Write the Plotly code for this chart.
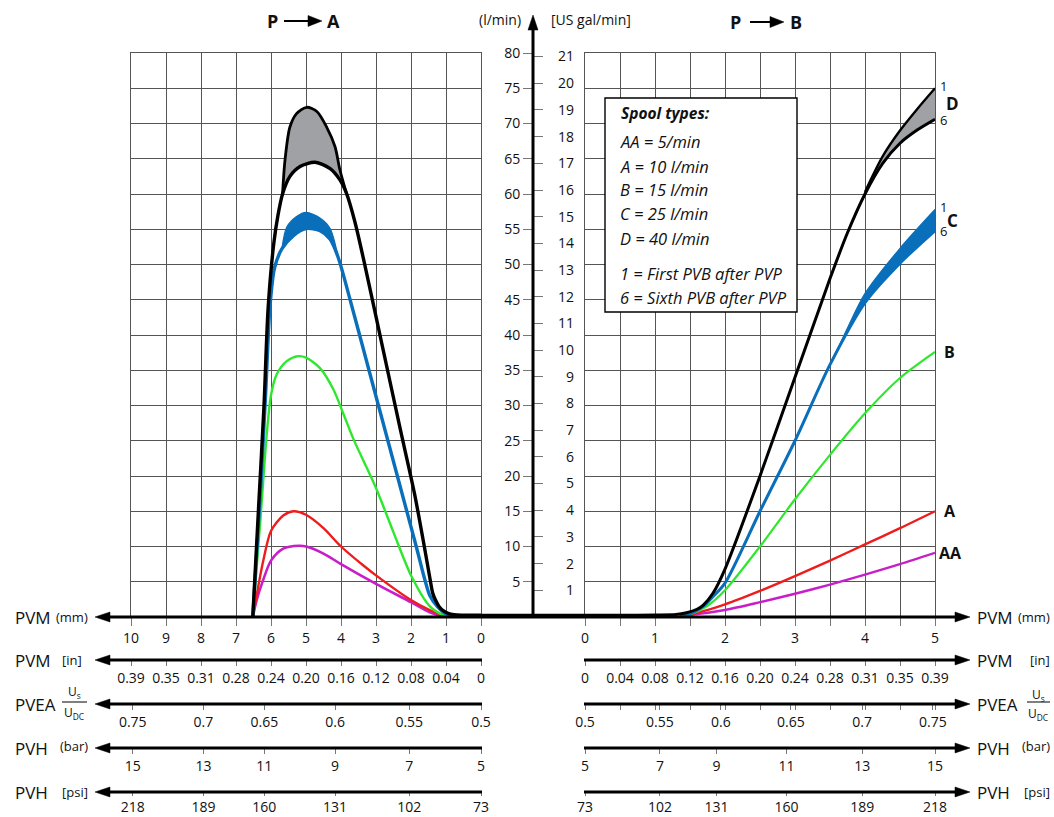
import plotly.graph_objects as go

W, H = 1054, 817
def PX(x): return x / W
def PY(y): return 1 - y / H

FONT = "Open Sans"

# ---------------- data: left panel  P -> A  (spool travel mm, flow l/min) ----------------
lD_fall_x = [0, 0.3, 0.69, 0.9, 1.08, 1.2, 1.3, 1.38, 1.46, 1.62, 1.9, 2.3, 2.8, 3.3, 3.6, 3.85]
lD_fall_y = [0.25, 0.25, 0.3, 0.45, 0.9, 1.5, 2.4, 3.4, 5.5, 10, 17.5, 26.5, 38, 49.5, 56, 60.2]
lD_low_x = [3.85, 4.03, 4.31, 4.74, 5.17, 5.46, 5.67]
lD_low_y = [60.2, 62.0, 63.6, 64.5, 63.9, 62.5, 60.0]
lD_up_x = [3.85, 4.03, 4.17, 4.41, 4.69, 4.98, 5.27, 5.46, 5.6, 5.67]
lD_up_y = [60.2, 63.4, 66.7, 69.5, 71.7, 72.3, 71.4, 69.5, 64.8, 60.0]
lD_rise_x = [5.67, 5.8, 5.92, 6.08, 6.2, 6.35, 6.52]
lD_rise_y = [60.0, 57, 53, 44, 30, 16, 0]

lC_fall_x = [0, 0.5, 0.85, 1.05, 1.25, 1.46, 1.6, 1.85, 2.12, 2.66, 3.2, 3.74, 4.08]
lC_fall_y = [0.2, 0.2, 0.25, 0.6, 1.5, 3.0, 5.2, 10, 15, 25, 35, 45, 51]
lC_low_x = [4.08, 4.31, 4.6, 5.0, 5.36, 5.69]
lC_low_y = [51, 53.6, 54.8, 55.1, 54.1, 52.2]
lC_up_x = [4.08, 4.31, 4.6, 5.0, 5.27, 5.55, 5.69]
lC_up_y = [51, 55.1, 56.6, 57.4, 56.8, 55.3, 52.2]
lC_rise_x = [5.69, 5.9, 6.03, 6.15, 6.3, 6.52]
lC_rise_y = [52.2, 49.5, 44, 32, 18, 0]

lB_x = [0, 0.7, 1.08, 1.46, 1.98, 2.5, 3.0, 3.65, 3.93, 4.22, 4.6, 5.0, 5.22, 5.55, 5.84, 6.0, 6.12, 6.3, 6.52]
lB_y = [0.1, 0.1, 0.3, 1.5, 5.7, 12.0, 18.3, 25.3, 28.8, 32.3, 35.3, 36.8, 37.0, 36.3, 34.4, 31.5, 26, 14, 0]

lA_x = [0, 0.6, 1.1, 1.48, 2.0, 3.0, 3.36, 4.0, 4.5, 5.0, 5.36, 5.65, 6.0, 6.22, 6.52]
lA_y = [0.05, 0.05, 0.3, 1.0, 2.4, 5.9, 7.3, 10, 12.6, 14.5, 15, 14.4, 12.2, 8, 0]

lAA_x = [0, 0.6, 1.1, 1.48, 2.0, 3.0, 4.0, 4.5, 5.0, 5.2, 5.65, 6.0, 6.22, 6.41, 6.52]
lAA_y = [0.05, 0.05, 0.1, 0.7, 2.1, 4.7, 7.5, 9.0, 10.0, 10.1, 9.7, 8.0, 5.3, 2.4, 0]

# ---------------- data: right panel  P -> B ----------------
rD_x = [0, 0.5, 1.0, 1.3, 1.45, 1.6, 1.69, 1.83, 2.0, 2.5, 3.0, 3.5, 3.75, 4.0, 4.25, 4.5, 4.75, 5.0]
rD_y = [0.25, 0.25, 0.28, 0.35, 0.6, 1.1, 1.7, 3.4, 6.8, 20, 34, 48, 54.5, 60.0, 64.3, 67.2, 69.1, 70.6]
rD_up_x = [4.0, 4.25, 4.5, 4.75, 5.0]
rD_up_y = [60.3, 65.3, 69.0, 72.1, 75.0]
rD_low_x = [4.0, 4.25, 4.5, 4.75, 5.0]
rD_low_y = [60.0, 64.3, 67.2, 69.1, 70.6]

rC_x = [1.35, 1.5, 1.69, 1.83, 2.0, 2.5, 3.0, 3.5, 4.0, 4.5, 5.0]
rC_y = [0.25, 0.45, 1.5, 2.9, 4.8, 15, 25, 35.8, 44.6, 50.2, 54.8]
rC_up_x = [3.55, 3.75, 4.0, 4.5, 5.0]
rC_up_y = [36.7, 41.0, 45.9, 52.3, 57.8]
rC_low_x = [3.55, 4.0, 4.5, 5.0]
rC_low_y = [36.7, 44.6, 50.2, 54.8]

rB_x = [1.4, 1.5, 1.75, 2.0, 2.5, 3.0, 3.5, 4.0, 4.5, 5.0]
rB_y = [0.25, 0.4, 1.6, 3.8, 10, 16.7, 23, 28.9, 33.9, 37.6]

rA_x = [1.4, 1.5, 2.0, 2.5, 3.0, 3.5, 4.0, 4.5, 5.0]
rA_y = [0.25, 0.35, 1.8, 3.7, 5.8, 8.0, 10.3, 12.6, 15.0]

rAA_x = [1.4, 1.5, 2.0, 2.5, 3.0, 3.5, 4.0, 4.5, 5.0]
rAA_y = [0.25, 0.3, 1.0, 2.1, 3.3, 4.6, 6.0, 7.5, 9.1]

# flat leakage line between the two panels
gap_x = [0, 1]
gap_y = [0.25, 0.25]

# ---------------- tick labels ----------------
mm_left_vals = list(range(0, 11))
mm_right_vals = list(range(0, 6))

in_left_vals = list(range(10, -1, -1))
in_labels = ["0.39", "0.35", "0.31", "0.28", "0.24", "0.20", "0.16", "0.12", "0.08", "0.04", "0"]
in_right_vals = [i * 0.5 for i in range(10, -1, -1)]

lower_left_vals = [9.95, 7.93, 6.19, 4.17, 2.05, 0]
pvea_labels = ["0.75", "0.7", "0.65", "0.6", "0.55", "0.5"]
bar_labels = ["15", "13", "11", "9", "7", "5"]
psi_labels = ["218", "189", "160", "131", "102", "73"]

pvea_right_vals = [4.97, 3.96, 2.94, 1.94, 1.07, 0]
barpsi_right_vals = [5.0, 3.96, 2.88, 1.88, 1.07, 0]

lmin_vals = list(range(5, 85, 5))
gal_vals = list(range(1, 22))
GAL = 3.78541

# colours
BLACK = "#000000"
BLUE = "#0a6fba"
GREEN = "#2ee82e"
RED = "#ee1c1c"
MAG = "#c81ec8"
GRAY_FILL = "#9fa1a4"
GRID = "#555555"
TICK = "#777777"

fig = go.Figure()

def add_line(x, y, color, width, xa, ya, fill=None, fillcolor=None):
    fig.add_trace(go.Scatter(
        x=x, y=y, mode="lines", xaxis=xa, yaxis=ya,
        line=dict(color=color, width=width, shape="spline", smoothing=0.8),
        fill=fill, fillcolor=fillcolor, hoverinfo="skip", showlegend=False))

# ---- left panel ----
add_line(lAA_x, lAA_y, MAG, 2.6, "x", "y")
add_line(lA_x, lA_y, RED, 2.4, "x", "y")
add_line(lB_x, lB_y, GREEN, 2.4, "x", "y")
add_line(lC_low_x, lC_low_y, BLUE, 0, "x", "y")
add_line(lC_up_x, lC_up_y, BLUE, 1.2, "x", "y", fill="tonexty", fillcolor=BLUE)
add_line(lC_fall_x + lC_low_x[1:] + lC_rise_x[1:], lC_fall_y + lC_low_y[1:] + lC_rise_y[1:], BLUE, 3.4, "x", "y")
add_line(lD_low_x, lD_low_y, BLACK, 0, "x", "y")
add_line(lD_up_x, lD_up_y, BLACK, 2.8, "x", "y", fill="tonexty", fillcolor=GRAY_FILL)
add_line(lD_fall_x + lD_low_x[1:] + lD_rise_x[1:], lD_fall_y + lD_low_y[1:] + lD_rise_y[1:], BLACK, 3.4, "x", "y")

# ---- right panel ----
add_line(rAA_x, rAA_y, MAG, 2.4, "x2", "y2")
add_line(rA_x, rA_y, RED, 2.4, "x2", "y2")
add_line(rB_x, rB_y, GREEN, 2.2, "x2", "y2")
add_line(rC_low_x, rC_low_y, BLUE, 0, "x2", "y2")
add_line(rC_up_x, rC_up_y, BLUE, 1.2, "x2", "y2", fill="tonexty", fillcolor=BLUE)
add_line(rC_x, rC_y, BLUE, 3.0, "x2", "y2")
add_line(rD_low_x, rD_low_y, BLACK, 0, "x2", "y2")
add_line(rD_up_x, rD_up_y, BLACK, 2.4, "x2", "y2", fill="tonexty", fillcolor=GRAY_FILL)
add_line(rD_x, rD_y, BLACK, 3.0, "x2", "y2")

# ---- gap ----
add_line(gap_x, gap_y, BLACK, 3.0, "x3", "y3")

# placeholder (empty) traces so that the scale-only axes are rendered
def activate(xa, ya):
    fig.add_trace(go.Scatter(x=[None], y=[None], mode="lines", xaxis=xa, yaxis=ya,
                             hoverinfo="skip", showlegend=False))
for ya in ["y4", "y5", "y6"]:
    activate("x", ya)
for xa in ["x4", "x5", "x6", "x7"]:
    activate(xa, "y")
for xa in ["x8", "x9", "x10", "x11"]:
    activate(xa, "y2")

Y0, Y1 = PY(617), PY(53)
LDOM = [PX(131), PX(481)]
RDOM = [PX(585), PX(935)]
tickfont = dict(family=FONT, size=14, color="#111")

grid_common = dict(showgrid=True, gridcolor=GRID, gridwidth=1.3, showline=True, mirror=True,
                   linecolor=GRID, linewidth=1.3, zeroline=False)

layout = dict(
    width=W, height=H, margin=dict(l=0, r=0, t=0, b=0, pad=0, autoexpand=False),
    paper_bgcolor="white", plot_bgcolor="rgba(0,0,0,0)",
    font=dict(family=FONT, size=14, color="#111"),
    showlegend=False,
    xaxis=dict(domain=LDOM, range=[10, 0], anchor="y", tickmode="array",
               tickvals=mm_left_vals, ticktext=[str(v) for v in mm_left_vals],
               ticks="outside", ticklen=8, tickwidth=1.4, tickcolor=TICK, tickfont=tickfont,
               automargin=False, **grid_common),
    yaxis=dict(domain=[Y0, Y1], range=[0, 80], anchor="x", tickmode="linear", tick0=0, dtick=5,
               showticklabels=False, ticks="", automargin=False, **grid_common),
    xaxis2=dict(domain=RDOM, range=[0, 5], anchor="y2", tickmode="array",
                tickvals=mm_right_vals, ticktext=[str(v) for v in mm_right_vals],
                ticks="outside", ticklen=8, tickwidth=1.4, tickcolor=TICK, tickfont=tickfont,
                minor=dict(tickmode="linear", tick0=0, dtick=0.5, ticks="outside", ticklen=8,
                           tickwidth=1.4, tickcolor=TICK, showgrid=True, gridcolor=GRID,
                           gridwidth=1.3),
                automargin=False, **grid_common),
    yaxis2=dict(domain=[Y0, Y1], range=[0, 80], anchor="x2", tickmode="linear", tick0=0, dtick=5,
                showticklabels=False, ticks="", automargin=False, **grid_common),
    xaxis3=dict(domain=[PX(481), PX(585)], range=[0, 1], anchor="y3", visible=False),
    yaxis3=dict(domain=[Y0, Y1], range=[0, 80], anchor="x3", visible=False),
    # central flow axis: l/min labels
    yaxis4=dict(overlaying="y", anchor="free", position=PX(533), side="left", range=[0, 80],
                tickmode="array", tickvals=lmin_vals, ticks="outside", ticklen=10, tickwidth=1.4,
                tickcolor=TICK, tickfont=tickfont, showgrid=False, showline=False, zeroline=False,
                automargin=False),
    # gal/min ticks
    yaxis5=dict(overlaying="y", anchor="free", position=PX(533), side="right", range=[0, 80 / GAL],
                tickmode="array", tickvals=gal_vals, ticks="outside", ticklen=9, tickwidth=1.4,
                tickcolor=TICK, showticklabels=False, showgrid=False, showline=False, zeroline=False,
                automargin=False),
    # gal/min labels (right aligned)
    yaxis6=dict(overlaying="y", anchor="free", position=PX(574), side="left", range=[0, 80 / GAL],
                tickmode="array", tickvals=gal_vals, ticks="", tickfont=tickfont,
                showgrid=False, showline=False, zeroline=False, automargin=False),
)

def lower_axis(overlay, rng, ypix, vals, text, minor=None):
    d = dict(overlaying=overlay, anchor="free", position=PY(ypix), side="bottom", range=rng,
             tickmode="array", tickvals=vals, ticktext=text, ticks="outside", ticklen=5,
             tickwidth=1.4, tickcolor=TICK, tickfont=tickfont, automargin=False,
             showgrid=False, showline=False, zeroline=False)
    if minor:
        d["minor"] = minor
    return d

half_mm_minor = dict(tickmode="linear", tick0=0, dtick=0.5, ticks="outside", ticklen=5,
                     tickwidth=1.4, tickcolor=TICK, showgrid=False)

layout["xaxis4"] = lower_axis("x", [10, 0], 660, in_left_vals, in_labels)
layout["xaxis5"] = lower_axis("x", [10, 0], 704, lower_left_vals, pvea_labels)
layout["xaxis6"] = lower_axis("x", [10, 0], 748, lower_left_vals, bar_labels)
layout["xaxis7"] = lower_axis("x", [10, 0], 789.5, lower_left_vals, psi_labels)
layout["xaxis8"] = lower_axis("x2", [0, 5], 660, in_right_vals, in_labels)
layout["xaxis9"] = lower_axis("x2", [0, 5], 704, pvea_right_vals, pvea_labels, half_mm_minor)
layout["xaxis10"] = lower_axis("x2", [0, 5], 748, barpsi_right_vals, bar_labels)
layout["xaxis11"] = lower_axis("x2", [0, 5], 789.5, barpsi_right_vals, psi_labels)

fig.update_layout(**layout)

# ---------------- decorations: axis lines and arrowheads ----------------
shapes = []
def hline(x0, x1, y, w=3, color=BLACK):
    shapes.append(dict(type="line", xref="paper", yref="paper", x0=PX(x0), x1=PX(x1),
                       y0=PY(y), y1=PY(y), line=dict(color=color, width=w), layer="above"))
def head(xt, yt, d, L=15, h=5):
    if d == "left":
        pts = [(xt, yt), (xt + L, yt - h), (xt + L, yt + h)]
    elif d == "right":
        pts = [(xt, yt), (xt - L, yt - h), (xt - L, yt + h)]
    else:
        pts = [(xt, yt), (xt - h, yt + L), (xt + h, yt + L)]
    path = "M " + " L ".join(f"{PX(a):.5f},{PY(b):.5f}" for a, b in pts) + " Z"
    shapes.append(dict(type="path", xref="paper", yref="paper", path=path,
                       fillcolor=BLACK, line=dict(color=BLACK, width=0.5), layer="above"))

hline(103, 962, 617)
head(95, 617, "left"); head(970, 617, "right")
for yy in [660, 704, 748, 792]:
    hline(103, 482, yy)
    hline(584, 962, yy)
    head(95, yy, "left"); head(970, yy, "right")
# vertical flow axis
shapes.append(dict(type="line", xref="paper", yref="paper", x0=PX(533), x1=PX(533),
                   y0=PY(618), y1=PY(26), line=dict(color=BLACK, width=3), layer="above"))
head(533, 15, "up", L=15, h=5)
# title arrows
hline(284, 310, 21, w=2)
head(322, 21, "right", L=14, h=5.5)
hline(750, 772, 22, w=2)
head(784, 22, "right", L=14, h=5.5)
# fraction bars
hline(62, 87, 702, w=1)
hline(1027, 1050, 702, w=1)
# legend box
shapes.append(dict(type="rect", xref="paper", yref="paper", x0=PX(605), x1=PX(797),
                   y0=PY(312), y1=PY(98), fillcolor="white", line=dict(color=BLACK, width=1.4),
                   layer="above"))
fig.update_layout(shapes=shapes)

# ---------------- text ----------------
ann = []
def txt(x, y, s, size=14, xanchor="center", bold=False, italic=False, yanchor="middle"):
    if italic:
        s = f"<i>{s}</i>"
    if bold:
        s = f"<b>{s}</b>"
    ann.append(dict(x=PX(x), y=PY(y), xref="paper", yref="paper", text=s, showarrow=False,
                    xanchor=xanchor, yanchor=yanchor, font=dict(family=FONT, size=size, color="#111")))

txt(272, 21, "P", 18, bold=True)
txt(333, 21, "A", 18, bold=True)
txt(735, 22, "P", 18, bold=True)
txt(796, 22, "B", 18, bold=True)
txt(500, 20, "(l/min)", 14)
txt(549, 19, "[US gal/min]", 14, xanchor="left")

# left axis titles
for yy, unit in [(617, "(mm)"), (660, "[in]"), (748, "(bar)"), (792, "[psi]")]:
    name = "PVH" if yy > 740 else "PVM"
    txt(13, yy, name, 17, xanchor="left")
    txt(90 if unit != "[in]" else 84, yy - (2 if unit == "(bar)" else 0), unit, 13, xanchor="right")
txt(13, 704, "PVEA", 17, xanchor="left")
txt(74.5, 692, "U<sub>s</sub>", 12)
txt(74.5, 713, "U<sub>DC</sub>", 12)
# right axis titles
for yy, unit in [(617, "(mm)"), (660, "[in]"), (748, "(bar)"), (792, "[psi]")]:
    name = "PVH" if yy > 740 else "PVM"
    txt(975, yy, name, 17, xanchor="left")
    txt(1052, yy - (2 if unit == "(bar)" else 0), unit, 13, xanchor="right")
txt(975, 704, "PVEA", 17, xanchor="left")
txt(1038.5, 695, "U<sub>s</sub>", 12)
txt(1038.5, 714, "U<sub>DC</sub>", 12)

# legend box text
txt(619, 113, "Spool types:", 15.5, xanchor="left", bold=True, italic=True)
legend_lines = ["AA = 5/min", "A = 10 l/min", "B = 15 l/min", "C = 25 l/min", "D = 40 l/min",
                "1 = First PVB after PVP", "6 = Sixth PVB after PVP"]
legend_y = [142, 166, 190, 214, 238, 273, 297]
for s, yy in zip(legend_lines, legend_y):
    txt(618, yy, s, 16.5, xanchor="left", italic=True)

# curve end labels on right panel (positioned by data)
def dlab(yv, s, size, bold, xshift, yshift=0):
    ann.append(dict(x=5, y=yv, xref="x2", yref="y2", text=f"<b>{s}</b>" if bold else s,
                    showarrow=False, xanchor="left", yanchor="middle", xshift=xshift, yshift=yshift,
                    font=dict(family=FONT, size=size, color="#111")))
dlab(rD_up_y[-1], "1", 13, False, 3, 2)
dlab(rD_low_y[-1], "6", 13, False, 3, -1)
dlab((rD_up_y[-1] + rD_low_y[-1]) / 2, "D", 17, True, 9)
dlab(rC_up_y[-1], "1", 13, False, 3, 3)
dlab(rC_y[-1], "6", 13, False, 3, 0)
dlab((rC_up_y[-1] + rC_y[-1]) / 2, "C", 17, True, 10)
dlab(rB_y[-1], "B", 16, True, 7)
dlab(rA_y[-1], "A", 16, True, 7)
dlab(rAA_y[-1], "AA", 16, True, 2)

fig.update_layout(annotations=ann)
fig.write_html("out.html")
